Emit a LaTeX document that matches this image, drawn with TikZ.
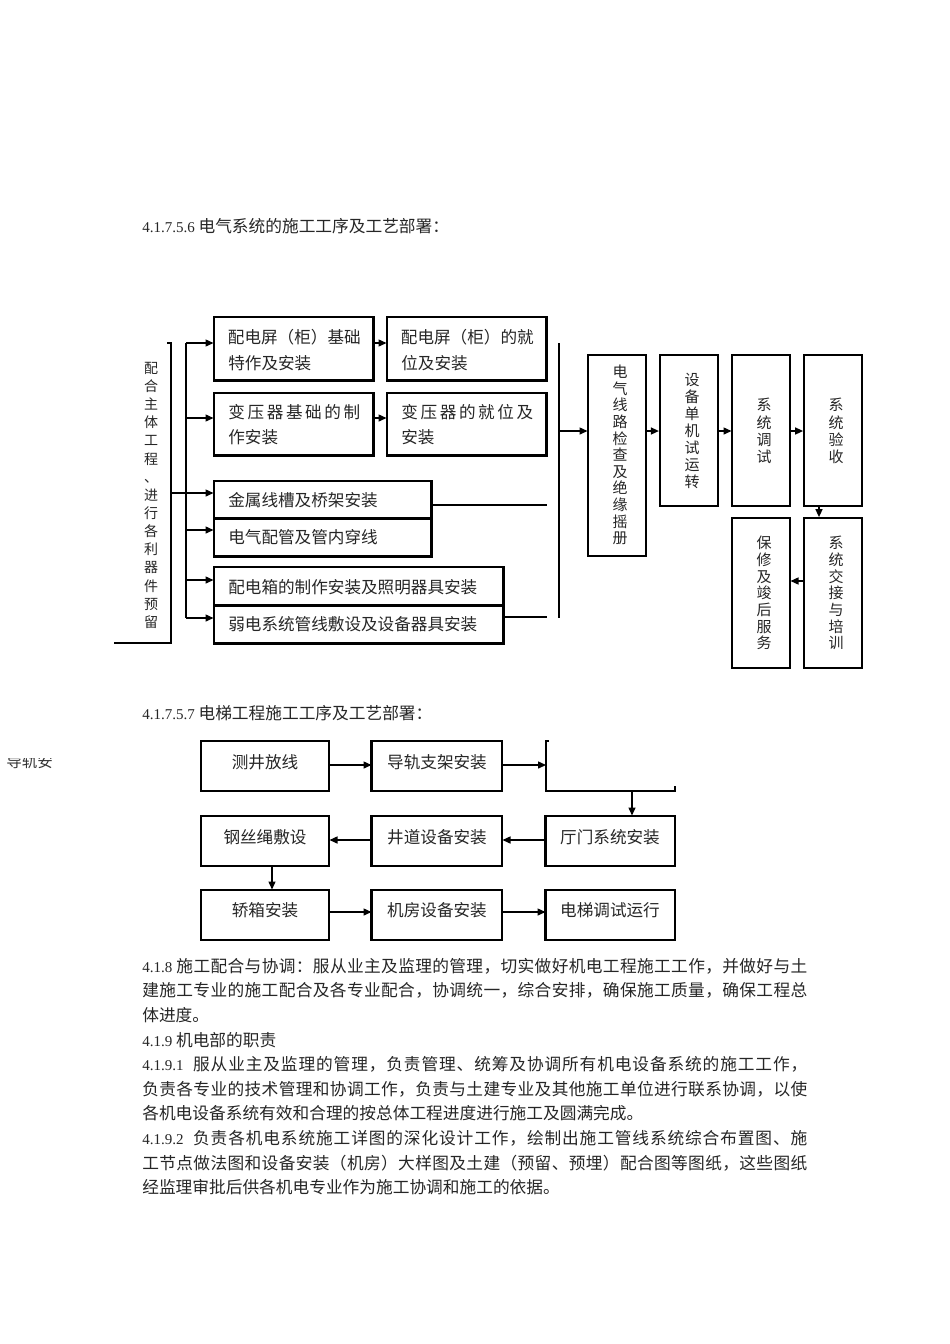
\documentclass[tikz,border=0pt]{standalone}
\usepackage{fontspec}
\setmainfont{Liberation Serif}
\newfontfamily\cjk{Noto Sans CJK SC}
\usetikzlibrary{arrows.meta,fit}
\newlength\px \setlength\px{0.62661pt}
\newlength\bodyw \setlength\bodyw{665\px}
\newcommand\fsz[2]{\fontsize{#1\px}{#2\px}\selectfont}
\newcommand\lat[1]{{\rmfamily\fsz{15}{25}#1}}
\def\jusA#1{#1\jusB}
\def\jusB#1{\ifx#1\relax\else\hskip0pt plus 1pt\relax#1\expandafter\jusB\fi}
\newcommand\jus[1]{\jusA#1\relax}
\newcommand\jline[1]{\makebox[\bodyw][s]{#1}}
\newcommand\shadowit[1]{\draw[line width=1.4pt] (#1.north east) -- (#1.south east) -- (#1.south west);}
\newcommand\vstack[6]{%
  \foreach \c [count=\i from 0] in {#6}{%
    \node[inner sep=0pt,text=black!85,font=\cjk\fsz{#5}{#5},anchor=base] (#1\i) at (#2,{#3+\i*#4+0.38*#5}) {\c};}}
\begin{document}
\begin{tikzpicture}[x=0.62661pt,y=-0.62661pt,
  ln/.style={line width=0.85pt},
  arr/.style={line width=0.85pt,-{Triangle[length=5pt,width=4.4pt]}},
  bx/.style={draw,line width=0.65pt,inner sep=0pt},
  tx/.style={inner sep=0pt,text=black!85,font=\cjk\fsz{16.6}{26}},
  body/.style={inner sep=0pt,text=black!85,font=\cjk\fsz{16.7}{25},anchor=base west}]
\fill[white] (0,0) rectangle (950,1344);
\useasboundingbox (0,0) rectangle (950,1344);

% ---------- titles ----------
\node[body] (t1) at (142,232.3) {\lat{4.1.7.5.6 }电气系统的施工工序及工艺部署：};
\node[body] (t2) at (142,719.3) {\lat{4.1.7.5.7 }电梯工程施工工序及工艺部署：};

% ---------- electrical diagram ----------
\node[bx,fit={(214,317)(373,380)}] (b1) {};
\node[bx,fit={(387,317)(546,380)}] (b2) {};
\node[bx,fit={(214,393)(373,455)}] (b3) {};
\node[bx,fit={(387,393)(546,455)}] (b4) {};
\node[bx,fit={(214,481)(431,518)}] (b5) {};
\node[bx,fit={(214,518)(431,556)}] (b6) {};
\node[bx,fit={(214,567)(503,605)}] (b7) {};
\node[bx,fit={(214,605)(503,643)}] (b8) {};
\foreach \b in {b1,b2,b3,b4,b5,b6,b7,b8} {\shadowit{\b}}

\node[tx,anchor=base west] (b1t) at (228,343.3) {\makebox[132\px]{配\hfill 电\hfill 屏\hfill （\hfill 柜\hfill ）\hfill 基\hfill 础}};
\node[tx,anchor=base west] (b1u) at (228,369.3) {特作及安装};
\node[tx,anchor=base west] (b2t) at (401,343.3) {\makebox[132\px]{配\hfill 电\hfill 屏\hfill （\hfill 柜\hfill ）\hfill 的\hfill 就}};
\node[tx,anchor=base west] (b2u) at (401,369.3) {位及安装};
\node[tx,anchor=base west] (b3t) at (228,418.3) {\makebox[132\px]{变\hfill 压\hfill 器\hfill 基\hfill 础\hfill 的\hfill 制}};
\node[tx,anchor=base west] (b3u) at (228,443.3) {作安装};
\node[tx,anchor=base west] (b4t) at (401,418.3) {\makebox[132\px]{变\hfill 压\hfill 器\hfill 的\hfill 就\hfill 位\hfill 及}};
\node[tx,anchor=base west] (b4u) at (401,443.3) {安装};
\node[tx,anchor=base west] (b5t) at (228,506.3) {金属线槽及桥架安装};
\node[tx,anchor=base west] (b6t) at (228,543.3) {电气配管及管内穿线};
\node[tx,anchor=base west] (b7t) at (228,593.3) {配电箱的制作安装及照明器具安装};
\node[tx,anchor=base west] (b8t) at (228,630.3) {弱电系统管线敷设及设备器具安装};

% left bracket and vertical text
\coordinate (brk) at (167,343);
\coordinate (brt) at (171,343);
\coordinate (brb) at (171,643);
\coordinate (brl) at (114,643);
\coordinate (brj) at (171,493);
\draw[ln] (brk) -- (brt) -- (brb) -- (brl);
\vstack{lv}{151}{368}{18.14}{14}{配,合,主,体,工,程,、,进,行,各,利,器,件,预,留}

% trunk
\coordinate (ta) at (186,343);
\coordinate (tb) at (186,418);
\coordinate (tc) at (186,493);
\coordinate (td) at (186,530);
\coordinate (te) at (186,580);
\coordinate (tf) at (186,618);
\draw[ln] (ta) -- (tf);
\draw[ln] (brj) -- (tc);
\draw[arr] (ta) -- (ta -| b1.west);
\draw[arr] (tb) -- (tb -| b3.west);
\draw[arr] (tc) -- (tc -| b5.west);
\draw[arr] (td) -- (td -| b6.west);
\draw[arr] (te) -- (te -| b7.west);
\draw[arr] (tf) -- (tf -| b8.west);
\draw[arr] (b1.east |- ta) -- (b2.west |- ta);
\draw[arr] (b3.east |- tb) -- (b4.west |- tb);
\coordinate (m5) at (547,505);
\coordinate (m8) at (547,617);
\draw[ln] (m5 -| b5.east) -- (m5);
\draw[ln] (m8 -| b8.east) -- (m8);

% right collector
\coordinate (ra) at (559,343);
\coordinate (rb) at (559,618);
\coordinate (rc) at (559,431);
\draw[line width=0.7pt] (ra) -- (rb);

\node[bx,fit={(588,355)(646,556)}] (c1) {};
\node[bx,line width=1.4pt,fit={(660,355)(718,506)}] (c2) {};
\node[bx,fit={(732,355)(790,506)}] (c3) {};
\node[bx,line width=1.1pt,fit={(804,355)(862,506)}] (c4) {};
\node[bx,line width=1.1pt,fit={(804,518)(862,668)}] (c5) {};
\node[bx,fit={(732,518)(790,668)}] (c6) {};
\vstack{c1v}{620}{372}{16.6}{15}{电,气,线,路,检,查,及,绝,缘,摇,册}
\vstack{c2v}{692}{380}{16.9}{15}{设,备,单,机,试,运,转}
\vstack{c3v}{764}{405}{17.3}{15}{系,统,调,试}
\vstack{c4v}{836}{405}{17.3}{15}{系,统,验,收}
\vstack{c5v}{836}{543}{16.7}{15}{系,统,交,接,与,培,训}
\vstack{c6v}{764}{543}{16.7}{15}{保,修,及,竣,后,服,务}

\draw[arr] (rc) -- (rc -| c1.west);
\draw[arr] (c1.east |- rc) -- (c2.west |- rc);
\draw[arr] (c2.east |- rc) -- (c3.west |- rc);
\draw[arr] (c3.east |- rc) -- (c4.west |- rc);
\coordinate (cd) at (819,0);
\draw[arr] (cd |- c4.south) -- (cd |- c5.north);
\coordinate (cl) at (0,581);
\draw[arr] (c5.west |- cl) -- (c6.east |- cl);

% ---------- clipped fragment ----------
\begin{scope}
  \clip (0,758) rectangle (100,780);
  \node[inner sep=0pt,anchor=base west,text=black!80,font=\cjk\fsz{15.5}{15.5}] (frag) at (6,767) {导轨安};
\end{scope}

% ---------- elevator diagram ----------
\node[bx,fit={(201,741)(329,791)}] (e1) {};
\node[bx,fit={(372,741)(502,791)}] (e2) {};
\node[bx,fit={(201,816)(329,866)}] (f1) {};
\node[bx,fit={(372,816)(502,866)}] (f2) {};
\node[bx,fit={(546,816)(675,866)}] (f3) {};
\node[bx,fit={(201,890)(329,940)}] (g1) {};
\node[bx,fit={(372,890)(502,940)}] (g2) {};
\node[bx,fit={(546,890)(675,940)}] (g3) {};
\foreach \b in {e2,f2,f3,g2,g3} {\draw[line width=1.3pt] (\b.north west) -- (\b.south west);}
\coordinate (e3a) at (549,741);
\coordinate (e3b) at (546,741);
\coordinate (e3c) at (546,791);
\coordinate (e3d) at (675,791);
\coordinate (e3e) at (675,786);
\draw[line width=0.65pt] (e3a) -- (e3b) -- (e3c) -- (e3d) -- (e3e);
\draw[line width=1.3pt] (e3b) -- (e3c);

\node[tx,anchor=base] (e1t) at (265,768) {测井放线};
\node[tx,anchor=base] (e2t) at (437,768) {导轨支架安装};
\node[tx,anchor=base] (f1t) at (265,843) {钢丝绳敷设};
\node[tx,anchor=base] (f2t) at (437,843) {井道设备安装};
\node[tx,anchor=base] (f3t) at (610,843) {厅门系统安装};
\node[tx,anchor=base] (g1t) at (265,916) {轿箱安装};
\node[tx,anchor=base] (g2t) at (437,916) {机房设备安装};
\node[tx,anchor=base] (g3t) at (610,916) {电梯调试运行};

\coordinate (r1) at (0,765);
\coordinate (r2) at (0,840);
\coordinate (r3) at (0,912);
\draw[arr] (e1.east |- r1) -- (e2.west |- r1);
\draw[arr] (e2.east |- r1) -- (e3b |- r1);
\coordinate (dd1) at (632,0);
\draw[arr] (dd1 |- e3c) -- (dd1 |- f3.north);
\draw[arr] (f3.west |- r2) -- (f2.east |- r2);
\draw[arr] (f2.west |- r2) -- (f1.east |- r2);
\coordinate (dd2) at (272,0);
\draw[arr] (dd2 |- f1.south) -- (dd2 |- g1.north);
\draw[arr] (g1.east |- r3) -- (g2.west |- r3);
\draw[arr] (g2.east |- r3) -- (g3.west |- r3);

% ---------- body text ----------
\node[body] (p0) at (142,972.3) {\jline{\lat{4.1.8 }\jus{施工配合与协调：服从业主及监理的管理，切实做好机电工程施工工作，并做好与土}}};
\node[body] (p1) at (142,996.9) {\jline{\jus{建施工专业的施工配合及各专业配合，协调统一，综合安排，确保施工质量，确保工程总}}};
\node[body] (p2) at (142,1021.5) {体进度。};
\node[body] (p3) at (142,1046.1) {\lat{4.1.9 }机电部的职责};
\node[body] (p4) at (142,1070.7) {\jline{\lat{4.1.9.1\ \ }\jus{服从业主及监理的管理，负责管理、统筹及协调所有机电设备系统的施工工作，}}};
\node[body] (p5) at (142,1095.3) {\jline{\jus{负责各专业的技术管理和协调工作，负责与土建专业及其他施工单位进行联系协调，以使}}};
\node[body] (p6) at (142,1119.9) {各机电设备系统有效和合理的按总体工程进度进行施工及圆满完成。};
\node[body] (p7) at (142,1144.5) {\jline{\lat{4.1.9.2\ \ }\jus{负责各机电系统施工详图的深化设计工作，绘制出施工管线系统综合布置图、施}}};
\node[body] (p8) at (142,1169.1) {\jline{\jus{工节点做法图和设备安装（机房）大样图及土建（预留、预埋）配合图等图纸，这些图纸}}};
\node[body] (p9) at (142,1193.7) {经监理审批后供各机电专业作为施工协调和施工的依据。};
\end{tikzpicture}
\end{document}
